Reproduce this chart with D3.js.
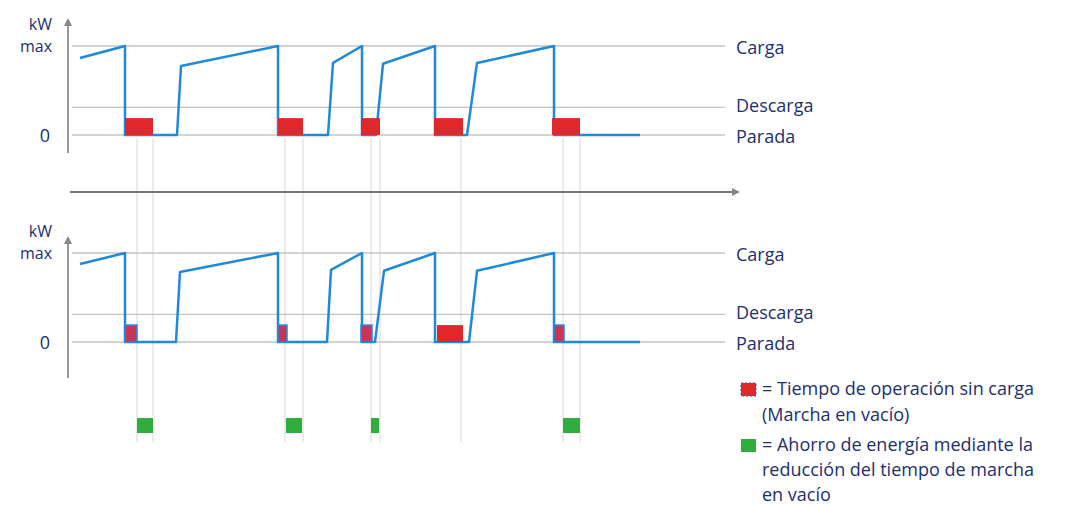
<!DOCTYPE html>
<html>
<head>
<meta charset="utf-8">
<script src="https://cdn.jsdelivr.net/npm/d3@7"></script>
<style>
  body { margin: 0; background: #fff; }
  svg text { font-family: "Open Sans", sans-serif; fill: #1d2f6f; }
</style>
</head>
<body>
<script>
// Load profile of a compressor: upper = without control, lower = with idle reduction
// Time in arbitrary units, power in % of kW max

const levelNames = ["Carga", "Descarga", "Parada"];
const levelValues = [100, 31, 0];

const topTime  = [2.4, 11.4, 11.4, 21.8, 22.6, 42, 42, 52, 53, 58.8, 58.8, 61.6, 63, 73.4, 73.4, 79.8, 81.8, 97.2, 97.2, 114.4];
const topPower = [86.5, 100, 0, 0, 77.5, 100, 0, 0, 81, 100, 0, 0, 80, 100, 0, 0, 81, 100, 0, 0];

const botTime  = [2.4, 11.4, 11.4, 21.6, 22.4, 42, 42, 51.8, 52.6, 58.8, 58.8, 61.4, 63.2, 73.4, 73.4, 80.2, 81.8, 97.2, 97.2, 114.4];
const botPower = [87.6, 100, 0, 0, 78.7, 100, 0, 0, 81, 100, 0, 0, 80, 100, 0, 0, 80, 100, 0, 0];

// idle running (no load) periods
const topIdleStart = [11.4, 42, 58.6, 73.2, 96.8];
const topIdleEnd   = [17, 47, 62.4, 79, 102.4];
const botIdleStart = [11.4, 42, 58.6, 73.8, 97.2];
const botIdleEnd   = [13.8, 43.8, 60.8, 79, 99.2];
const idleLevel = 19;

// energy savings
const saveStart = [13.8, 43.6, 60.6, 99];
const saveEnd   = [17, 46.8, 62.2, 102.4];

// faint guide lines linking both panels
const guideTimes = [13.8, 17, 43.4, 47, 60.6, 62.4, 78.6, 99, 102.4];

const legendRed = ["= Tiempo de operación sin carga", "(Marcha en vacío)"];
const legendGreen = ["= Ahorro de energía mediante la", "reducción del tiempo de marcha", "en vacío"];

const width = 1071, height = 508;
const BLUE = "#2189dc", RED = "#e0282c", GREEN = "#2fae3e";

const svg = d3.select("body").append("svg")
    .attr("width", width)
    .attr("height", height);

const defs = svg.append("defs");
defs.append("marker")
    .attr("id", "arrow")
    .attr("viewBox", "0 0 10 10")
    .attr("refX", 5).attr("refY", 5)
    .attr("markerWidth", 4).attr("markerHeight", 4)
    .attr("orient", "auto-start-reverse")
    .append("path")
    .attr("d", "M0,0 L10,5 L0,10 z")
    .attr("fill", "#888");

const x = d3.scaleLinear().domain([0, 130]).range([68, 718]);

const panels = [
    { y: d3.scaleLinear().domain([0, 100]).range([135, 46]), time: topTime, power: topPower,
      idleStart: topIdleStart, idleEnd: topIdleEnd, axisTop: 18, axisBottom: 153, small: false },
    { y: d3.scaleLinear().domain([0, 100]).range([342, 253]), time: botTime, power: botPower,
      idleStart: botIdleStart, idleEnd: botIdleEnd, axisTop: 236, axisBottom: 378, small: true }
];

// guide lines first, behind everything
svg.append("g").selectAll("line")
    .data(guideTimes)
    .join("line")
    .attr("x1", d => x(d)).attr("x2", d => x(d))
    .attr("y1", 138).attr("y2", 442)
    .attr("stroke", "#e4e4e4")
    .attr("stroke-width", 1.5);

// time axis between panels
svg.append("line")
    .attr("x1", 70).attr("x2", 736)
    .attr("y1", 192).attr("y2", 192)
    .attr("stroke", "#777")
    .attr("stroke-width", 2)
    .attr("marker-end", "url(#arrow)");

panels.forEach(p => {
    const g = svg.append("g");

    // reference levels
    g.selectAll("line.level")
        .data(levelValues)
        .join("line")
        .attr("class", "level")
        .attr("x1", 72).attr("x2", 725)
        .attr("y1", d => p.y(d)).attr("y2", d => p.y(d))
        .attr("stroke", "#c4c4c4")
        .attr("stroke-width", 1.3);

    g.selectAll("text.level")
        .data(levelNames)
        .join("text")
        .attr("class", "level")
        .attr("x", 736)
        .attr("y", (d, i) => p.y(levelValues[i]) + (i === 1 ? -2 : 2))
        .attr("dy", "0.35em")
        .style("font-size", "18px")
        .text(d => d);

    // vertical power axis
    g.append("line")
        .attr("x1", 68).attr("x2", 68)
        .attr("y1", p.axisBottom).attr("y2", p.axisTop + 4)
        .attr("stroke", "#999")
        .attr("stroke-width", 2)
        .attr("marker-end", "url(#arrow)");

    g.append("text").attr("x", 52).attr("y", p.y(100) - 22).attr("dy", "0.35em")
        .attr("text-anchor", "end").style("font-size", "16px").text("kW");
    g.append("text").attr("x", 52).attr("y", p.y(100)).attr("dy", "0.35em")
        .attr("text-anchor", "end").style("font-size", "16px").text("max");
    g.append("text").attr("x", 50).attr("y", p.y(0) + 1).attr("dy", "0.35em")
        .attr("text-anchor", "end").style("font-size", "18px").text("0");

    // load curve
    const line = d3.line()
        .x(d => x(d[0]))
        .y(d => p.y(d[1]));
    g.append("path")
        .datum(p.time.map((t, i) => [t, p.power[i]]))
        .attr("d", line)
        .attr("fill", "none")
        .attr("stroke", BLUE)
        .attr("stroke-width", 2.5)
        .attr("stroke-linejoin", "round");

    // idle running boxes
    g.selectAll("rect.idle")
        .data(p.idleStart.map((s, i) => [s, p.idleEnd[i]]))
        .join("rect")
        .attr("class", "idle")
        .attr("x", d => x(d[0]))
        .attr("width", d => x(d[1]) - x(d[0]))
        .attr("y", p.y(idleLevel))
        .attr("height", p.y(0) - p.y(idleLevel))
        .attr("fill", d => (p.small && d[1] - d[0] < 3) ? "#c93556" : RED)
        .attr("stroke", d => (p.small && d[1] - d[0] < 3) ? BLUE : "none")
        .attr("stroke-width", 1.5);
});

// energy savings boxes
svg.append("g").selectAll("rect")
    .data(saveStart.map((s, i) => [s, saveEnd[i]]))
    .join("rect")
    .attr("x", d => x(d[0]))
    .attr("width", d => x(d[1]) - x(d[0]))
    .attr("y", 418)
    .attr("height", 15)
    .attr("fill", GREEN);

// legend
const leg = svg.append("g");
leg.append("rect").attr("x", 741).attr("y", 383).attr("width", 15).attr("height", 13)
    .attr("fill", RED).attr("stroke", "#3a5fa8").attr("stroke-width", 1)
    .attr("stroke-dasharray", "2,2");
leg.append("rect").attr("x", 741).attr("y", 439).attr("width", 15).attr("height", 13)
    .attr("fill", GREEN);

leg.selectAll("text.red")
    .data(legendRed)
    .join("text")
    .attr("class", "red")
    .attr("x", 762)
    .attr("y", (d, i) => 389 + i * 26)
    .attr("dy", "0.35em")
    .style("font-size", "18px")
    .text(d => d);

leg.selectAll("text.green")
    .data(legendGreen)
    .join("text")
    .attr("class", "green")
    .attr("x", 762)
    .attr("y", (d, i) => 445 + i * 25)
    .attr("dy", "0.35em")
    .style("font-size", "18px")
    .text(d => d);
</script>
</body>
</html>
